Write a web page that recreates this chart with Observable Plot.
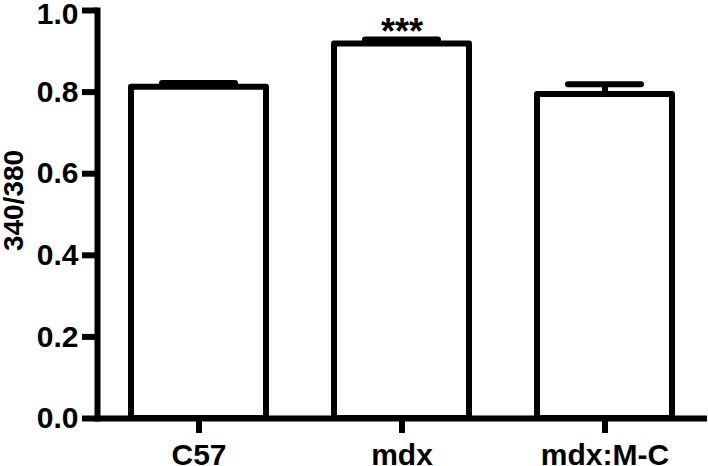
<!DOCTYPE html>
<html>
<head>
<meta charset="utf-8">
<script src="https://cdn.jsdelivr.net/npm/d3@7"></script>
<script src="https://cdn.jsdelivr.net/npm/@observablehq/plot@0.6"></script>
<style>
  html, body { margin: 0; padding: 0; background: #fff; }
</style>
</head>
<body>
<div id="chart"></div>
<script>
const groups = ["C57", "mdx", "mdx:M-C"];
const means = [0.812, 0.918, 0.794];
const sems = [0.010, 0.011, 0.025];
const significance = ["", "***", ""];
const yTicks = [0, 0.2, 0.4, 0.6, 0.8, 1.0];
const yLabel = "340/380";

const data = groups.map((g, i) => ({group: g, mean: means[i], sem: sems[i], sig: significance[i]}));
const yMax = d3.max(yTicks);
const fmt = d => d.toFixed(1);

const font = "'Liberation Sans', Arial, Helvetica, sans-serif";

const chart = Plot.plot({
  width: 708,
  height: 466,
  marginLeft: 97,
  marginRight: 1,
  marginTop: 10,
  marginBottom: 48,
  style: {fontFamily: font, fontSize: "30px", fontWeight: "bold", color: "#000", background: "#fff"},
  x: {domain: groups, paddingInner: 0.333, paddingOuter: 0.162, axis: null},
  y: {domain: [0, yMax], axis: null},
  marks: [
    Plot.barY(data, {x: "group", y: "mean", fill: "#fff", stroke: "#000", strokeWidth: 6, strokeLinejoin: "round"}),
    Plot.ruleX(data, {x: "group", y1: "mean", y2: d => d.mean + d.sem, stroke: "#000", strokeWidth: 6}),
    Plot.tickY(data, {x: "group", y: d => d.mean + d.sem, stroke: "#000", strokeWidth: 6, strokeLinecap: "round", insetLeft: 31, insetRight: 31}),
    Plot.text(data.filter(d => d.sig), {x: "group", y: d => d.mean + d.sem, text: "sig", lineAnchor: "bottom", dy: 5, fontSize: 36, fontWeight: "bold", fill: "#000"}),
    Plot.frame({anchor: "left", stroke: "#000", strokeWidth: 6}),
    Plot.ruleY([0], {stroke: "#000", strokeWidth: 6}),
    // y ticks with labels (top label drawn separately, nudged down to stay inside like the reference)
    Plot.axisY({ticks: yTicks, tickFormat: d => d === yMax ? "" : fmt(d), tickSize: 15, tickPadding: 4, stroke: "#000", strokeWidth: 6, label: null, fill: "#000"}),
    Plot.text([yMax], {y: d => d, text: d => fmt(d), frameAnchor: "left", dx: -19, dy: 4, textAnchor: "end", fontSize: 30, fontWeight: "bold", fill: "#000"}),
    Plot.axisX({tickSize: 15, tickPadding: 10, stroke: "#000", strokeWidth: 6, label: null, fill: "#000"}),
    Plot.text([yLabel], {frameAnchor: "left", rotate: -90, textAnchor: "middle", dx: -83, dy: -14, text: d => d, fontSize: 28, fontWeight: "bold", fill: "#000"})
  ]
});

document.getElementById("chart").appendChild(chart);
</script>
</body>
</html>
